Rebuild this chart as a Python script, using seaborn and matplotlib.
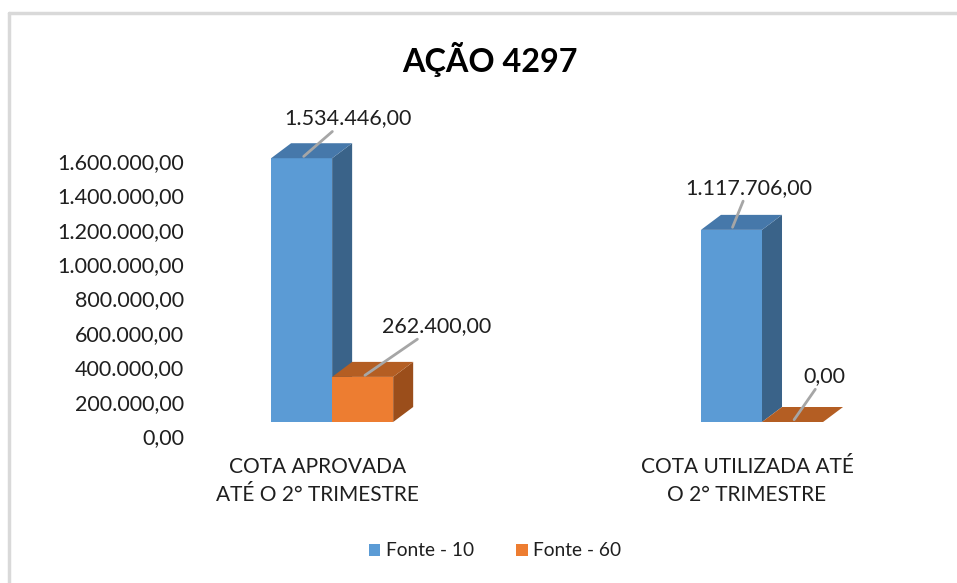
import matplotlib
matplotlib.use("Agg")
import matplotlib.pyplot as plt
import matplotlib.transforms as mtransforms
from matplotlib.patches import Polygon
from matplotlib.lines import Line2D
import seaborn as sns
import pandas as pd

# ---- data ----
categories = ["COTA APROVADA\nATÉ O 2° TRIMESTRE", "COTA UTILIZADA ATÉ\nO 2° TRIMESTRE"]
series_names = ["Fonte - 10", "Fonte - 60"]
fonte10 = [1534446.00, 1117706.00]
fonte60 = [262400.00, 0.00]
yticks = [0, 200000, 400000, 600000, 800000, 1000000, 1200000, 1400000, 1600000]
title = "AÇÃO 4297"

front_colors = ["#5B9BD5", "#ED7D31"]
top_colors = ["#4678AA", "#B45E23"]
side_colors = ["#3A6389", "#9B4E1B"]

def fmt_br(v):
    s = f"{v:,.2f}"
    return s.replace(",", "X").replace(".", ",").replace("X", ".")

df = pd.DataFrame({
    "cat": categories * 2,
    "serie": [series_names[0]] * 2 + [series_names[1]] * 2,
    "valor": fonte10 + fonte60,
})

sns.set_theme(style="white")
plt.rcParams["font.family"] = ["Lato", "DejaVu Sans"]
TXT = "#1F1F1F"

fig = plt.figure(figsize=(9.57, 5.83), dpi=100)
W, H = 957, 583
ax = fig.add_axes([195 / W, (H - 422) / H, 705 / W, 312 / H])

sns.barplot(data=df, x="cat", y="valor", hue="serie", palette=front_colors,
            width=0.284, ax=ax, legend=False, saturation=1, linewidth=0)

ax.set_xlim(-0.319, 1.321)
ax.set_ylim(0, 1.815e6)

# depth of the 3D effect in pixels
DX_PX, DY_PX = 20, 15
px_per_x = ax.bbox.width / (ax.get_xlim()[1] - ax.get_xlim()[0])
px_per_y = ax.bbox.height / (ax.get_ylim()[1] - ax.get_ylim()[0])
ddx = DX_PX / px_per_x
ddy = DY_PX / px_per_y

patches = [p for p in ax.patches]
# label offsets (pixels) for each bar: order = Fonte10 cat0, cat1, Fonte60 cat0, cat1
label_offsets = [(46, 40), (17, 42), (74, 51), (32, 46)]
all_vals = fonte10 + fonte60
for i, p in enumerate(patches):
    s = 0 if i < 2 else 1
    x0 = p.get_x()
    x1 = x0 + p.get_width()
    h = p.get_height()
    z = 2 + s * 3
    p.set_zorder(z)
    side = Polygon([(x1, 0), (x1, h), (x1 + ddx, h + ddy), (x1 + ddx, ddy)],
                   closed=True, facecolor=side_colors[s], edgecolor="none", zorder=z + 0.5)
    top = Polygon([(x0, h), (x1, h), (x1 + ddx, h + ddy), (x0 + ddx, h + ddy)],
                  closed=True, facecolor=top_colors[s], edgecolor="none", zorder=z + 1)
    if h > 0:
        ax.add_patch(side)
    ax.add_patch(top)
    off = label_offsets[i]
    ax.annotate(fmt_br(all_vals[i]), xy=((x0 + x1) / 2, h), xytext=off,
                textcoords="offset pixels", ha="center", va="center",
                fontsize=15.5, color=TXT, zorder=20,
                arrowprops=dict(arrowstyle="-", color="#A6A6A6", lw=2,
                                shrinkA=0, shrinkB=2))

# axes styling
for sp in ax.spines.values():
    sp.set_visible(False)
ax.set_xlabel("")
ax.set_ylabel("")
ax.set_yticks(yticks)
ax.set_yticklabels([fmt_br(v) for v in yticks], fontsize=15.5, color=TXT)
ax.tick_params(axis="y", length=0, pad=8)
ax.tick_params(axis="x", length=0, pad=25, labelsize=15, labelcolor=TXT)
# shift tick labels (perspective of back wall / floor)
ytrans = mtransforms.ScaledTranslation(0, -14 / 100, fig.dpi_scale_trans)
for lab in ax.get_yticklabels():
    lab.set_transform(lab.get_transform() + ytrans)
xtrans = mtransforms.ScaledTranslation(-15 / 100, 0, fig.dpi_scale_trans)
for lab in ax.get_xticklabels():
    lab.set_transform(lab.get_transform() + xtrans)
    lab.set_linespacing(1.5)

fig.text(490 / W, 1 - 59 / H, title, ha="center", va="center",
         fontsize=23.3, fontweight="bold", color="#000000")

handles = [plt.Rectangle((0, 0), 1, 1, facecolor=c, edgecolor="none") for c in front_colors]
fig.legend(handles, series_names, loc="center", bbox_to_anchor=(495 / W, 1 - 551 / H),
           ncol=2, frameon=False, fontsize=13.8, handlelength=0.6, handleheight=0.6,
           handletextpad=0.3, columnspacing=2.2, labelcolor=TXT)

# chart frame (visible top and left edges)
fig.add_artist(Line2D([9 / W, 1], [1 - 13 / H, 1 - 13 / H], color="#D9D9D9", lw=2.5))
fig.add_artist(Line2D([9 / W, 9 / W], [0, 1 - 13 / H], color="#D9D9D9", lw=2.5))

fig.savefig("out.png", dpi=100)
